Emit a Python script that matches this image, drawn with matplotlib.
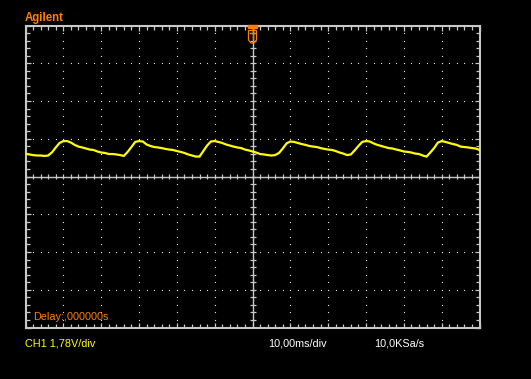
"""Agilent scope screenshot: CH1 ripple, 1.78 V/div, 10 ms/div."""

import numpy as np
import matplotlib
matplotlib.use("Agg")
import matplotlib.pyplot as plt
from matplotlib.patches import Polygon, Rectangle
from matplotlib.lines import Line2D

# screen settings
VOLTS_PER_DIV = 1.78
MS_PER_DIV = 10.0
H_DIVS = 12
V_DIVS = 8

TIME_MS = list(range(-60, 61))
VOLTS = [
    1.08, 1.04, 1.01, 0.99, 0.99, 0.97, 0.99, 1.14, 1.37, 1.58,
    1.67, 1.67, 1.60, 1.49, 1.41, 1.37, 1.32, 1.27, 1.25, 1.18,
    1.13, 1.11, 1.06, 1.06, 1.04, 1.01, 0.97, 1.16, 1.39, 1.63,
    1.67, 1.65, 1.51, 1.44, 1.39, 1.37, 1.34, 1.30, 1.27, 1.25,
    1.20, 1.16, 1.11, 1.04, 0.99, 0.94, 0.94, 1.20, 1.46, 1.65,
    1.67, 1.63, 1.58, 1.51, 1.46, 1.41, 1.37, 1.34, 1.27, 1.23,
    1.18, 1.13, 1.06, 1.04, 1.01, 0.99, 1.01, 1.11, 1.32, 1.56,
    1.65, 1.63, 1.58, 1.53, 1.49, 1.44, 1.41, 1.39, 1.34, 1.30,
    1.27, 1.25, 1.20, 1.13, 1.08, 1.01, 1.04, 1.23, 1.44, 1.63,
    1.67, 1.65, 1.56, 1.49, 1.44, 1.39, 1.34, 1.32, 1.27, 1.23,
    1.18, 1.16, 1.13, 1.08, 1.06, 0.99, 0.94, 1.13, 1.34, 1.60,
    1.67, 1.63, 1.58, 1.53, 1.49, 1.41, 1.39, 1.37, 1.34, 1.32,
    1.25,
]

W, H = 531, 379
BG = "black"
GRID = "#c8c8c8"
ORANGE = "#ff8000"
YELLOW = "#ffff00"


def px(x, y):
    """pixel (from top-left) -> figure fraction"""
    return (x / W, 1 - y / H)


plt.rcParams["font.family"] = ["Liberation Sans", "DejaVu Sans"]

fig = plt.figure(figsize=(W / 100, H / 100), dpi=100, facecolor=BG)
left, top, right, bottom = 25.5, 25.5, 479.5, 327.5
ax = fig.add_axes([left / W, 1 - bottom / H, (right - left) / W, (bottom - top) / H])
ax.set_facecolor(BG)

xmax = H_DIVS / 2 * MS_PER_DIV
ymax = V_DIVS / 2 * VOLTS_PER_DIV
ax.set_xlim(-xmax, xmax)
ax.set_ylim(-ymax, ymax)

for s in ax.spines.values():
    s.set_color(GRID)
    s.set_linewidth(1.5)

# border ticks (inward)
ax.set_xticks(np.arange(-xmax, xmax + 0.01, MS_PER_DIV))
ax.set_yticks(np.arange(-ymax, ymax + 0.01, VOLTS_PER_DIV))
ax.set_xticks(np.arange(-xmax, xmax + 0.01, MS_PER_DIV / 5), minor=True)
ax.set_yticks(np.arange(-ymax, ymax + 0.01, VOLTS_PER_DIV / 5), minor=True)
ax.tick_params(which="both", direction="in", top=True, right=True, color=GRID,
               width=0.9, labelbottom=False, labelleft=False)
ax.tick_params(which="major", length=3.6)
ax.tick_params(which="minor", length=2.6)

# dotted graticule
xdots = np.arange(-xmax, xmax + 0.01, MS_PER_DIV / 5)
ydots = np.arange(-ymax, ymax + 0.01, VOLTS_PER_DIV / 5)
for k in range(1, H_DIVS // 2):
    for xv in (k * MS_PER_DIV, -k * MS_PER_DIV):
        ax.plot(np.full_like(ydots, xv), ydots, ls="none", marker="s",
                ms=0.8, mew=0, color="#e0e0e0", antialiased=False)
for k in range(1, V_DIVS // 2):
    for yv in (k * VOLTS_PER_DIV, -k * VOLTS_PER_DIV):
        ax.plot(xdots, np.full_like(xdots, yv), ls="none", marker="s",
                ms=0.8, mew=0, color="#e0e0e0", antialiased=False)

# centre axes with small ticks
ax.axhline(0, color=GRID, lw=1.0)
ax.axvline(0, color=GRID, lw=1.0)
dy = 2.3 * (2 * ymax) / (bottom - top)
dx = 3.0 * (2 * xmax) / (right - left)
ax.vlines(xdots, -dy, dy, color=GRID, lw=0.9)
ax.hlines(ydots, -dx, dx, color=GRID, lw=0.9)

# CH1 trace
ax.plot(TIME_MS, VOLTS, color=YELLOW, lw=1.6, solid_joinstyle="miter", zorder=5)

# trigger marker at top
tri = Polygon([px(248.5, 30.5), px(256.5, 30.5), px(256.5, 40), px(254, 43),
               px(251, 43), px(248.5, 40)], closed=True, fill=False,
              edgecolor=ORANGE, lw=0.9, transform=fig.transFigure)
fig.add_artist(tri)
x0, y0 = px(248, 27.5)
fig.add_artist(Rectangle((x0, y0), 9 / W, 2.5 / H, color=ORANGE,
                         transform=fig.transFigure))
for xs, ys in (([252.5, 252.5], [27, 30.5]), ([249.8, 255.2], [33, 33]),
               ([252.5, 252.5], [33, 41])):
    fig.add_artist(Line2D([x / W for x in xs], [1 - y / H for y in ys],
                          color=ORANGE, lw=1.0, transform=fig.transFigure))

# screen labels
fig.text(*px(25, 20.5), "Agilent", color=ORANGE, fontsize=8.3,
         fontweight="bold", ha="left", va="baseline")
fig.text(*px(33, 319.5), "Delay:,000000s", color=ORANGE, fontsize=7.8,
         ha="left", va="baseline")
fig.text(*px(25, 346.5), "CH1 1,78V/div", color=YELLOW, fontsize=7.8,
         ha="left", va="baseline")
fig.text(*px(268.5, 346.5), "10,00ms/div", color="white", fontsize=7.8,
         ha="left", va="baseline")
fig.text(*px(374, 346.5), "10,0KSa/s", color="white", fontsize=7.8,
         ha="left", va="baseline")

fig.savefig("out.png", dpi=100, facecolor=BG)
